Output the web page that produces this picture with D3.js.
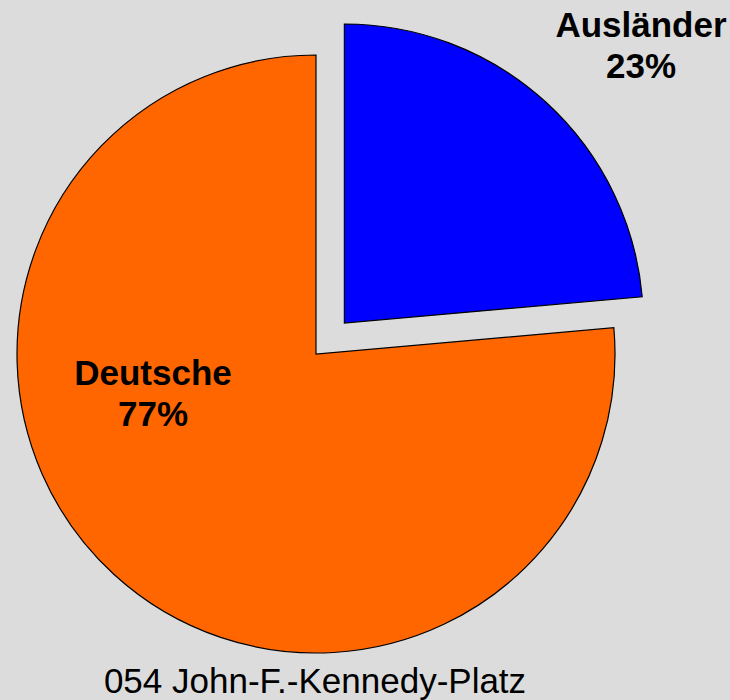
<!DOCTYPE html>
<meta charset="utf-8">
<style>
body { margin: 0; background: #dcdcdc; }
text { font-family: "Liberation Sans", Arial, sans-serif; fill: #000; }
.lbl { font-size: 35px; font-weight: bold; text-anchor: middle; }
.title { font-size: 35px; text-anchor: middle; }
</style>
<svg width="730" height="700"></svg>
<script src="https://cdn.jsdelivr.net/npm/d3@7"></script>
<script>
// Anteile (Winkel)
var categories = ["Ausländer", "Deutsche"];
var values = [23.6, 76.4];
var pctLabels = ["23%", "77%"];
var colors = ["#0000ff", "#ff6600"];
var title = "054 John-F.-Kennedy-Platz";

var svg = d3.select("svg"),
    cx = 316, cy = 354, radius = 299, explode = 42;

svg.append("rect").attr("width", 730).attr("height", 700).attr("fill", "#dcdcdc");

var pie = d3.pie().sort(null).value(function(d) { return d; });
var arc = d3.arc().innerRadius(0).outerRadius(radius);
var arcs = pie(values);

var g = svg.append("g").attr("transform", "translate(" + cx + "," + cy + ")");

g.selectAll("path")
  .data(arcs)
  .enter().append("path")
    .attr("d", arc)
    .attr("fill", function(d, i) { return colors[i]; })
    .attr("stroke", "#000")
    .attr("stroke-width", 1.2)
    .attr("transform", function(d, i) {
      if (i !== 0) return null;
      var a = (d.startAngle + d.endAngle) / 2;
      return "translate(" + (explode * Math.sin(a)) + "," + (-explode * Math.cos(a)) + ")";
    });

// Beschriftungen (Position wie im Original)
var labelPos = [[641, 37], [153, 385]];
categories.forEach(function(c, i) {
  var t = svg.append("text").attr("class", "lbl")
    .attr("x", labelPos[i][0]).attr("y", labelPos[i][1]);
  t.append("tspan").attr("x", labelPos[i][0]).text(c);
  t.append("tspan").attr("x", labelPos[i][0]).attr("dy", 41).text(pctLabels[i]);
});

svg.append("text").attr("class", "title")
  .attr("x", 315).attr("y", 693)
  .text(title);
</script>
